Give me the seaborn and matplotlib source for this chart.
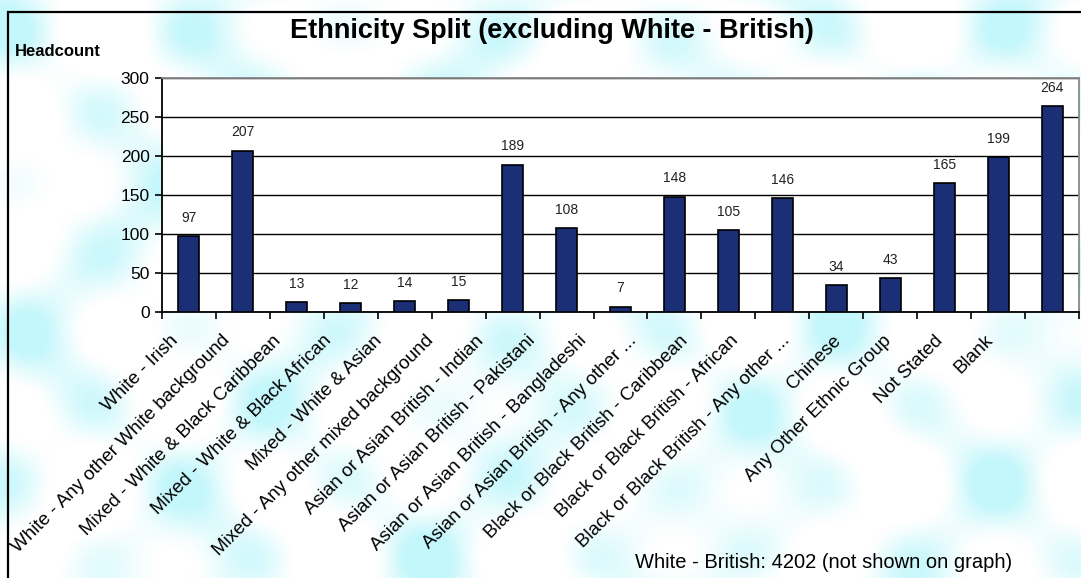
import numpy as np
import matplotlib
matplotlib.use("Agg")
import matplotlib.pyplot as plt
import matplotlib.transforms as mtransforms
from matplotlib.colors import LinearSegmentedColormap
from matplotlib.patches import Rectangle
import seaborn as sns

categories = [
    "White - Irish",
    "White - Any other White background",
    "Mixed - White & Black Caribbean",
    "Mixed - White & Black African",
    "Mixed - White & Asian",
    "Mixed - Any other mixed background",
    "Asian or Asian British - Indian",
    "Asian or Asian British - Pakistani",
    "Asian or Asian British - Bangladeshi",
    "Asian or Asian British - Any other ...",
    "Black or Black British - Caribbean",
    "Black or Black British - African",
    "Black or Black British - Any other ...",
    "Chinese",
    "Any Other Ethnic Group",
    "Not Stated",
    "Blank",
]
headcount = [97, 207, 13, 12, 14, 15, 189, 108, 7, 148, 105, 146, 34, 43, 165, 199, 264]
y_ticks = [0, 50, 100, 150, 200, 250, 300]

title = "Ethnicity Split (excluding White - British)"
y_title = "Headcount"
footnote = "White - British: 4202 (not shown on graph)"

sns.set_theme(style="white")
plt.rcParams["font.family"] = ["Liberation Sans", "DejaVu Sans"]
plt.rcParams["text.color"] = "black"
plt.rcParams["xtick.color"] = "black"
plt.rcParams["ytick.color"] = "black"
plt.rcParams["axes.labelcolor"] = "black"

W, H = 1081, 578
fig = plt.figure(figsize=(W / 100, H / 100), dpi=100)

# cloudy cyan background texture
bg = fig.add_axes([0, 0, 1, 1], zorder=-10)
xx, yy = np.meshgrid(np.arange(W), np.arange(H))
z = (np.sin(xx / 26.0 + 0.9) * np.sin(yy / 24.0 + 0.3)
     + 0.5 * np.sin((xx + 0.6 * yy) / 41.0 + 1.7)
     + 0.35 * np.cos((xx - 0.8 * yy) / 33.0 + 0.5))
z = np.clip((z + 0.3) / 1.6, 0, 1) ** 1.3
cmap = LinearSegmentedColormap.from_list("cl", ["#ffffff", "#c4f7fb"])
bg.imshow(z, cmap=cmap, aspect="auto", extent=[0, 1, 0, 1], origin="upper",
          interpolation="bilinear")
bg.set_axis_off()
fig.patches.append(Rectangle((8 / W, -0.01), 1.0, 1 - 12 / H + 0.01,
                             transform=fig.transFigure, fill=False,
                             edgecolor="black", linewidth=1.6, zorder=5))

ax = fig.add_axes([162 / W, 1 - 312 / H, (1079 - 162) / W, (312 - 78) / H])
ax.set_facecolor("white")
sns.barplot(x=list(range(len(categories))), y=headcount, color="#1a2f75",
            edgecolor="black", linewidth=1.2, width=0.39, saturation=1,
            ax=ax, zorder=3)
for c in ax.containers:
    ax.bar_label(c, padding=8, fontsize=10, color="#222222")

ax.set_xlim(-0.5, len(categories) - 0.5)
ax.set_ylim(0, 300)
ax.set_yticks(y_ticks)
ax.set_yticklabels([str(v) for v in y_ticks], fontsize=12.5)
ax.yaxis.grid(True, color="black", linewidth=1.0)
ax.set_axisbelow(True)
ax.set_xlabel("")
ax.set_ylabel("")

ax.set_xticks(range(len(categories)))
ax.set_xticklabels([])
ax.tick_params(axis="x", which="major", length=0)
ax.set_xticks(np.arange(-0.5, len(categories), 1), minor=True)
ax.tick_params(axis="x", which="minor", bottom=True, length=5, width=1.2,
               color="black", direction="out")
ax.tick_params(axis="y", left=True, length=5, width=1.2, color="black",
               direction="out", pad=4)

for side in ["left", "bottom"]:
    ax.spines[side].set_color("black")
    ax.spines[side].set_linewidth(1.3)
for side in ["top", "right"]:
    ax.spines[side].set_color("#888888")
    ax.spines[side].set_linewidth(1.3)

blend = mtransforms.blended_transform_factory(ax.transData, ax.transAxes)
for i, name in enumerate(categories):
    dx = (-19 - 3.0 * i) / 100.0
    dy = -20 / 100.0
    off = mtransforms.ScaledTranslation(dx, dy, fig.dpi_scale_trans)
    ax.text(i, 0, name, transform=blend + off, rotation=45,
            rotation_mode="anchor", ha="right", va="top", fontsize=13.5,
            color="black")

fig.text(552 / W, 1 - 31 / H, title, ha="center", va="center",
         fontsize=19.5, fontweight="bold")
fig.text(15 / W, 1 - 52 / H, y_title, ha="left", va="center",
         fontsize=12, fontweight="bold")
fig.text(1012 / W, 1 - 563 / H, footnote, ha="right", va="center",
         fontsize=14.5)

fig.savefig("out.png", dpi=100)
